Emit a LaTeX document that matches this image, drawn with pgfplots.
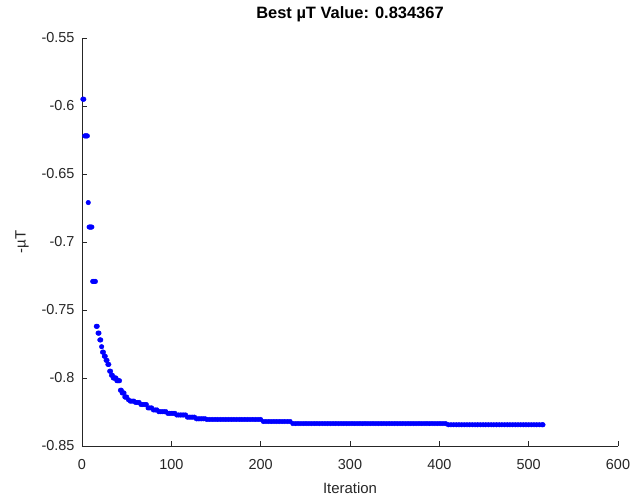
\documentclass[border=0pt]{standalone}
\usepackage{pgfplots}
\pgfplotsset{compat=1.18}
\usepackage{fontspec}
\setmainfont{Liberation Sans}
\definecolor{axgray}{RGB}{38,38,38}
\definecolor{dotblue}{RGB}{0,0,255}

\begin{document}
\begin{tikzpicture}
\path[use as bounding box] (-82bp,-51bp) rectangle (561bp,446bp);
\begin{axis}[
  at={(0,0)}, anchor=south west,
  scale only axis, width=536bp, height=408bp,
  xmin=0, xmax=600, ymin=-0.85, ymax=-0.55,
  axis x line*=bottom, axis y line*=left,
  axis line style={draw=axgray, line width=0.7bp},
  every tick/.style={draw=axgray, line width=0.7bp},
  tick align=inside, major tick length=5bp,
  xtick={0,100,200,300,400,500,600},
  xticklabels={0,100,200,300,400,500,600},
  ytick={-0.85,-0.8,-0.75,-0.7,-0.65,-0.6,-0.55},
  yticklabels={-0.85,-0.8,-0.75,-0.7,-0.65,-0.6,-0.55},
  tick label style={font=\fontsize{14.5}{16}\selectfont, text=axgray},
  xticklabel style={yshift=-10bp},
  yticklabel style={xshift=-4bp},
  xlabel={Iteration}, ylabel={-µT},
  label style={font=\fontsize{15}{17}\selectfont, text=axgray},
  xlabel style={at={(axis description cs:0.5,0)}, anchor=center, yshift=-42bp},
  ylabel style={at={(axis description cs:0,0.5)}, anchor=center, yshift=60bp},
  title={Best µT Value: 0.834367},
  title style={font=\fontsize{16.5}{18}\selectfont\bfseries, at={(axis description cs:0.5,1)}, anchor=south, yshift=7bp},
  clip=false,
]
\addplot[only marks, mark=*, mark size=2.3bp, color=dotblue] coordinates {
(1,-0.595) (2,-0.595) (3,-0.622) (4,-0.622) (5,-0.622) (6,-0.622) (7,-0.671)
(8,-0.689) (9,-0.689) (10,-0.689) (11,-0.689) (12,-0.729) (13,-0.729) (14,-0.729) (15,-0.729)
(16,-0.762) (17,-0.762) (18,-0.767) (19,-0.767) (20,-0.772) (21,-0.772) (22,-0.777)
(23,-0.781) (24,-0.781) (25,-0.784) (26,-0.784) (27,-0.787) (28,-0.787) (29,-0.790) (30,-0.790)
(31,-0.795) (32,-0.795) (33,-0.798) (34,-0.798) (35,-0.800) (36,-0.800) (37,-0.800) (38,-0.800)
(39,-0.802) (40,-0.802) (41,-0.802) (42,-0.802) (43,-0.809) (44,-0.809) (45,-0.811) (46,-0.811)
(47,-0.811) (48,-0.814) (49,-0.814) (50,-0.814)
(52,-0.816) (54,-0.817) (56,-0.817) (58,-0.817) (60,-0.818) (62,-0.818) (64,-0.818)
(66,-0.8195) (68,-0.8195) (70,-0.8195) (72,-0.8195) (74,-0.822) (76,-0.822) (78,-0.822)
(80,-0.8235) (82,-0.8235) (84,-0.8235) (86,-0.8248) (88,-0.8248) (90,-0.8248) (92,-0.8248) (94,-0.8248)
(96,-0.826) (98,-0.826) (100,-0.826) (102,-0.826) (104,-0.826)
(106,-0.8272) (108,-0.8272) (110,-0.8272) (112,-0.8272) (114,-0.8272) (116,-0.8272)
(118,-0.8288) (120,-0.8288) (122,-0.8288) (124,-0.8288) (126,-0.8288)
(128,-0.830) (130,-0.830) (132,-0.830) (134,-0.830) (136,-0.830) (138,-0.830)
(140,-0.8305) (143,-0.8305) (146,-0.8305) (149,-0.8305) (152,-0.8305) (155,-0.8305) (158,-0.8305)
(161,-0.8305) (164,-0.8305) (167,-0.8305) (170,-0.8305) (173,-0.8305) (176,-0.8305) (179,-0.8305)
(182,-0.8305) (185,-0.8305) (188,-0.8305) (191,-0.8305) (194,-0.8305) (197,-0.8305) (200,-0.8305)
(203,-0.832) (206,-0.832) (209,-0.832) (212,-0.832) (215,-0.832) (218,-0.832) (221,-0.832)
(224,-0.832) (227,-0.832) (230,-0.832) (233,-0.832)
(236,-0.8335) (239,-0.8335) (242,-0.8335) (245,-0.8335) (248,-0.8335) (251,-0.8335) (254,-0.8335)
(257,-0.8335) (260,-0.8335) (263,-0.8335) (266,-0.8335) (269,-0.8335) (272,-0.8335) (275,-0.8335)
(278,-0.8335) (281,-0.8335) (284,-0.8335) (287,-0.8335) (290,-0.8335) (293,-0.8335) (296,-0.8335)
(299,-0.8335) (302,-0.8335) (305,-0.8335) (308,-0.8335) (311,-0.8335) (314,-0.8335) (317,-0.8335)
(320,-0.8335) (323,-0.8335) (326,-0.8335) (329,-0.8335) (332,-0.8335) (335,-0.8335) (338,-0.8335)
(341,-0.8335) (344,-0.8335) (347,-0.8335) (350,-0.8335) (353,-0.8335) (356,-0.8335) (359,-0.8335)
(362,-0.8335) (365,-0.8335) (368,-0.8335) (371,-0.8335) (374,-0.8335) (377,-0.8335) (380,-0.8335)
(383,-0.8335) (386,-0.8335) (389,-0.8335) (392,-0.8335) (395,-0.8335) (398,-0.8335) (401,-0.8335)
(404,-0.8335) (407,-0.8335)
(410,-0.834367) (413,-0.834367) (416,-0.834367) (419,-0.834367) (422,-0.834367) (425,-0.834367)
(428,-0.834367) (431,-0.834367) (434,-0.834367) (437,-0.834367) (440,-0.834367) (443,-0.834367)
(446,-0.834367) (449,-0.834367) (452,-0.834367) (455,-0.834367) (458,-0.834367) (461,-0.834367)
(464,-0.834367) (467,-0.834367) (470,-0.834367) (473,-0.834367) (476,-0.834367) (479,-0.834367)
(482,-0.834367) (485,-0.834367) (488,-0.834367) (491,-0.834367) (494,-0.834367) (497,-0.834367)
(500,-0.834367) (503,-0.834367) (506,-0.834367) (509,-0.834367) (512,-0.834367) (515,-0.834367)
(516,-0.834367)
};
\end{axis}
\end{tikzpicture}
\end{document}
